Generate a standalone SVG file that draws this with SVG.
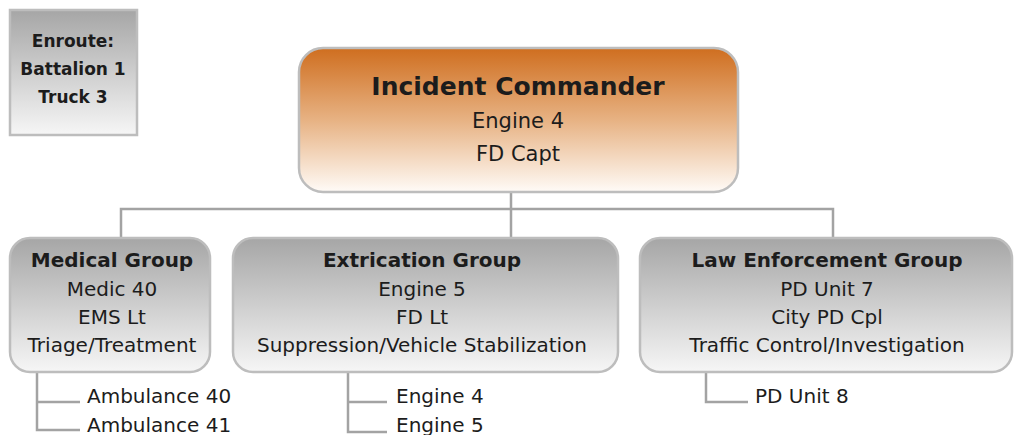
<svg xmlns="http://www.w3.org/2000/svg" width="1022" height="435" viewBox="0 0 1022 435">
<defs>
<linearGradient id="gGray" x1="0" y1="0" x2="0" y2="1">
<stop offset="0" stop-color="#a6a6a6"/>
<stop offset="1" stop-color="#f6f6f6"/>
</linearGradient>
<linearGradient id="gOrange" x1="0" y1="0" x2="0" y2="1">
<stop offset="0" stop-color="#cf6e1f"/>
<stop offset="0.5" stop-color="#e7b283"/>
<stop offset="1" stop-color="#fffbf7"/>
</linearGradient>
<style>
.box{fill:url(#gGray);stroke:#bdbdbd;stroke-width:2.5}
.ic{fill:url(#gOrange);stroke:#bdbdbd;stroke-width:2.5}
.ln{fill:none;stroke:#a3a3a3;stroke-width:2.5}
text{font-family:"DejaVu Sans","Liberation Sans",sans-serif;fill:#1c1c1c}
.c{text-anchor:middle}
.b{font-weight:bold}
.t{font-size:20px}
.e{font-size:17px}
.s{font-size:20px}
</style>
</defs>
<g id="connectors">
<path class="ln" d="M511,192 V209 M121,238 V209 H833 V238 M511,209 V238"/>
<path class="ln" d="M37,372 V430 H80 M37,402 H80"/>
<path class="ln" d="M348,372 V432 H387 M348,402 H387"/>
<path class="ln" d="M706,372 V402 H748"/>
</g>
<g id="enroute">
<rect class="box" x="10" y="10" width="127" height="125"/>
<text class="c b e" x="73" y="47">Enroute:</text>
<text class="c b e" x="73" y="75">Battalion 1</text>
<text class="c b e" x="73" y="103">Truck 3</text>
</g>
<g id="incident-commander">
<rect class="ic" x="299" y="48" width="439" height="144" rx="24"/>
<text class="c b" style="font-size:25px" x="518" y="95">Incident Commander</text>
<text class="c" style="font-size:21px" x="518" y="128">Engine 4</text>
<text class="c" style="font-size:21px" x="518" y="161">FD Capt</text>
</g>
<g id="medical-group">
<rect class="box" x="10" y="238" width="200" height="134" rx="20"/>
<text class="c b t" x="112" y="267">Medical Group</text>
<text class="c t" x="112" y="296">Medic 40</text>
<text class="c t" x="112" y="324">EMS Lt</text>
<text class="c t" x="112" y="352">Triage/Treatment</text>
</g>
<g id="extrication-group">
<rect class="box" x="233" y="238" width="385" height="134" rx="20"/>
<text class="c b t" x="422" y="267">Extrication Group</text>
<text class="c t" x="422" y="296">Engine 5</text>
<text class="c t" x="422" y="324">FD Lt</text>
<text class="c t" x="422" y="352">Suppression/Vehicle Stabilization</text>
</g>
<g id="law-enforcement-group">
<rect class="box" x="640" y="238" width="372" height="134" rx="20"/>
<text class="c b t" x="827" y="267">Law Enforcement Group</text>
<text class="c t" x="827" y="296">PD Unit 7</text>
<text class="c t" x="827" y="324">City PD Cpl</text>
<text class="c t" x="827" y="352">Traffic Control/Investigation</text>
</g>
<g id="ambulance-40"><text class="s" x="87" y="403">Ambulance 40</text></g>
<g id="ambulance-41"><text class="s" x="87" y="432">Ambulance 41</text></g>
<g id="engine-4-sub"><text class="s" x="396" y="403">Engine 4</text></g>
<g id="engine-5-sub"><text class="s" x="396" y="432">Engine 5</text></g>
<g id="pd-unit-8"><text class="s" x="755" y="403">PD Unit 8</text></g>
</svg>
